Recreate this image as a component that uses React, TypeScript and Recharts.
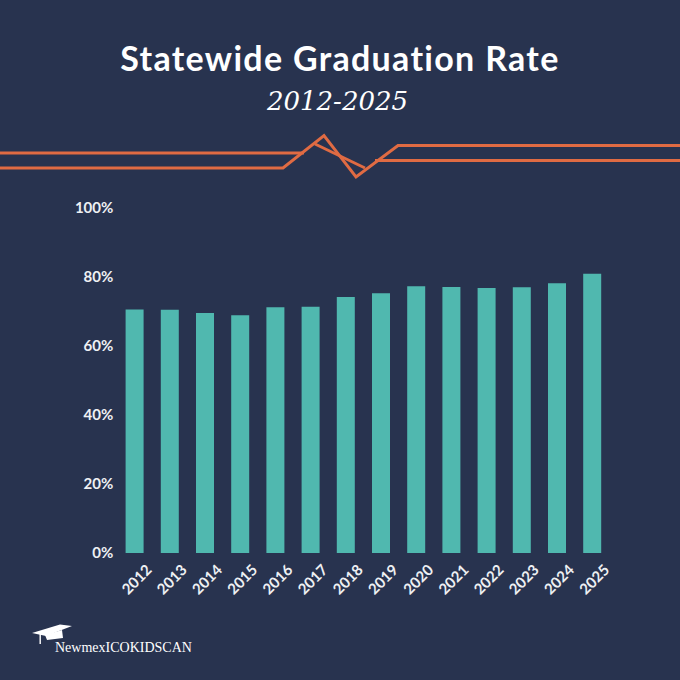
import { BarChart, Bar, XAxis, YAxis } from "recharts";

const YEARS = [
  "2012", "2013", "2014", "2015", "2016", "2017", "2018",
  "2019", "2020", "2021", "2022", "2023", "2024", "2025",
];
const RATES = [70.5, 70.4, 69.5, 68.8, 71.1, 71.3, 74.1, 75.2, 77.2, 77.0, 76.7, 76.9, 78.1, 80.8];
const Y_TICKS = [0, 20, 40, 60, 80, 100];

const BG = "#28334f";
const TEAL = "#50b8af";
const ORANGE = "#e06b43";
const INK = "#eef0f3";

const data = YEARS.map((year, i) => ({ year, rate: RATES[i] }));

function YearTick({ x, y, payload }: any) {
  const cx = x + 2;
  const cy = y + 26;
  return (
    <text
      x={cx}
      y={cy}
      transform={`rotate(-45, ${cx}, ${cy})`}
      textAnchor="middle"
      dominantBaseline="central"
      fill={INK}
      fontFamily="Lato"
      fontWeight={700}
      fontSize={15}
    >
      {payload.value}
    </text>
  );
}

export default function App() {
  return (
    <div
      style={{
        position: "fixed",
        top: 0,
        left: 0,
        width: 680,
        height: 680,
        background: BG,
      }}
    >
      <BarChart
        width={680}
        height={680}
        data={data}
        margin={{ top: 207.5, right: 70.6, bottom: 97, left: 0 }}
      >
        <YAxis
          domain={[0, 100]}
          ticks={Y_TICKS}
          width={116.6}
          axisLine={false}
          tickLine={false}
          tickSize={0}
          tickMargin={3.3}
          tickFormatter={(v) => `${v}%`}
          tick={{ fill: INK, fontFamily: "Lato", fontWeight: 700, fontSize: 15 }}
        />
        <XAxis
          dataKey="year"
          height={30}
          axisLine={false}
          tickLine={false}
          tickSize={0}
          tickMargin={0}
          interval={0}
          tick={<YearTick />}
        />
        <Bar dataKey="rate" fill={TEAL} barSize={18} isAnimationActive={false} />
      </BarChart>

      <svg
        width={680}
        height={680}
        style={{ position: "absolute", top: 0, left: 0, pointerEvents: "none" }}
      >
        <text
          x={340}
          y={71}
          textAnchor="middle"
          fill="#ffffff"
          fontFamily="Lato"
          fontWeight={700}
          fontSize={34}
          letterSpacing={1.3}
        >
          Statewide Graduation Rate
        </text>
        <text
          x={337.5}
          y={110}
          textAnchor="middle"
          fill="#ffffff"
          fontFamily="DejaVu Serif"
          fontStyle="italic"
          fontSize={26}
        >
          2012-2025
        </text>

        {/* zigzag rule under the title */}
        <g fill="none" stroke={ORANGE} strokeWidth={3} strokeLinejoin="miter">
          <polyline points="0,168 283,168 324,135.5 356,177 398,145.5 680,145.5" />
          <polyline points="0,153 304,153" />
          <polyline points="315,144 365,168" />
          <polyline points="375,160.5 680,160.5" />
        </g>

        {/* logo */}
        <g fill="#ffffff">
          <polygon points="32,633 60,624.5 72,626 46,636" />
          <polygon points="45,635 62,630 63,638 47,640" />
          <rect x={39.5} y={633} width={1.4} height={11} />
        </g>
        <text
          x={55}
          y={651.7}
          fill="#ffffff"
          fontFamily="Liberation Serif"
          fontSize={14}
        >
          NewmexICOKIDSCAN
        </text>
      </svg>
    </div>
  );
}
